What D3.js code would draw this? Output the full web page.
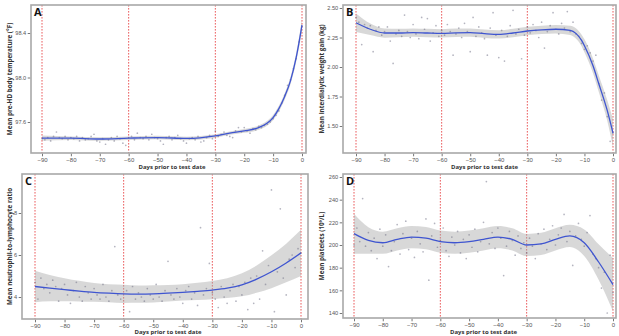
<!DOCTYPE html>
<html><head><meta charset="utf-8">
<script src="https://cdn.jsdelivr.net/npm/d3@7"></script>
<style>body{margin:0;background:#fff}svg{display:block}</style>
</head><body>
<script>
const days = [-90,-89,-88,-87,-86,-85,-84,-83,-82,-81,-80,-79,-78,-77,-76,-75,-74,-73,-72,-71,-70,-69,-68,-67,-66,-65,-64,-63,-62,-61,-60,-59,-58,-57,-56,-55,-54,-53,-52,-51,-50,-49,-48,-47,-46,-45,-44,-43,-42,-41,-40,-39,-38,-37,-36,-35,-34,-33,-32,-31,-30,-29,-28,-27,-26,-25,-24,-23,-22,-21,-20,-19,-18,-17,-16,-15,-14,-13,-12,-11,-10,-9,-8,-7,-6,-5,-4,-3,-2,-1,0];
const xTicks = [-90,-80,-70,-60,-50,-40,-30,-20,-10,0];
const refDays = [-90,-60,-30,0];

// Panel A: body temperature (F)
const tempPts = [97.45,97.44,97.46,97.43,97.47,97.51,97.46,97.45,97.47,97.44,97.46,97.45,97.47,97.43,97.46,97.44,97.45,97.47,97.49,97.43,97.42,97.45,97.40,97.44,97.46,97.43,97.47,97.45,97.41,97.39,97.46,97.47,97.44,97.50,97.46,97.45,97.47,97.44,97.49,97.46,97.45,97.43,97.40,97.46,97.47,97.44,97.46,97.48,97.45,97.43,97.41,97.45,97.46,97.44,97.47,97.42,97.43,97.46,97.48,97.45,97.52,97.47,97.49,97.51,97.48,97.47,97.46,97.52,97.55,97.51,97.55,97.52,97.50,97.54,97.53,97.56,97.55,97.57,97.58,97.60,97.63,97.66,97.70,97.77,97.84,97.93,97.98,98.08,98.17,98.32,98.46];
const tempFitDays = [-90,-80,-70,-60,-50,-40,-30,-25,-20,-15,-12,-10,-8,-6,-4,-2,0];
const tempFit = [97.455,97.455,97.447,97.455,97.46,97.452,97.475,97.5,97.52,97.55,97.59,97.64,97.72,97.83,97.97,98.18,98.47];
const tempSe = [0.012,0.008,0.008,0.008,0.008,0.008,0.008,0.008,0.009,0.01,0.011,0.012,0.013,0.015,0.017,0.02,0.028];
const tempTicks = [97.6,98.0,98.4];

// Panel B: interdialytic weight gain (kg)
const wgPts = [2.42,2.38,2.19,2.36,2.33,2.35,2.13,2.31,2.34,2.27,2.30,2.34,2.22,2.03,2.28,2.31,2.26,2.44,2.30,2.25,2.36,2.28,2.24,2.42,2.32,2.41,2.22,2.29,2.35,2.26,2.31,2.27,2.36,2.30,2.10,2.28,2.33,2.25,2.37,2.30,2.13,2.42,2.26,2.34,2.29,2.24,2.10,2.33,2.46,2.27,2.08,2.31,2.05,2.26,2.35,2.48,2.28,2.32,2.07,2.27,2.34,2.29,2.36,2.31,2.25,2.38,2.16,2.30,2.35,2.46,2.32,2.28,2.37,2.33,2.47,2.30,2.38,2.28,2.26,2.20,2.15,2.18,2.12,2.05,2.10,1.86,1.72,1.78,1.58,1.37,1.44];
const wgFitDays = [-90,-85,-80,-75,-70,-65,-60,-55,-50,-45,-40,-35,-30,-25,-20,-15,-13,-11,-10,-7,-5,-2,0];
const wgFit = [2.375,2.32,2.288,2.288,2.292,2.288,2.285,2.29,2.292,2.282,2.276,2.288,2.305,2.315,2.32,2.31,2.285,2.225,2.18,2.01,1.86,1.63,1.44];
const wgSe = [0.04,0.025,0.02,0.018,0.018,0.018,0.018,0.018,0.018,0.018,0.018,0.018,0.018,0.018,0.018,0.02,0.022,0.025,0.028,0.032,0.036,0.045,0.06];
const wgTicks = [1.50,1.75,2.00,2.25,2.50];

// Panel C: neutrophil-to-lymphocyte ratio
const nlrPts = [4.7,3.9,4.9,4.4,4.6,4.2,4.8,4.5,3.8,4.4,4.6,4.1,3.7,4.3,4.7,4.0,3.8,4.5,4.2,3.9,4.4,4.1,3.9,4.6,4.0,3.8,4.3,6.4,4.1,3.9,3.4,4.3,3.3,4.5,3.9,4.2,4.0,3.8,4.4,4.1,3.9,4.6,4.0,3.8,4.3,5.7,4.1,3.9,4.4,4.0,3.7,4.3,4.5,3.9,4.2,3.6,7.3,4.1,4.4,5.6,4.2,3.9,3.5,4.5,4.0,3.7,4.3,4.6,3.8,4.5,4.1,4.7,3.4,4.9,3.7,5.0,3.9,6.2,4.6,5.5,9.1,3.3,5.2,8.2,4.9,4.1,5.8,6.0,5.4,6.3,6.1];
const nlrFitDays = [-90,-85,-80,-75,-70,-65,-60,-55,-50,-45,-40,-35,-30,-25,-20,-15,-10,-5,0];
const nlrFit = [4.5,4.42,4.35,4.28,4.22,4.18,4.15,4.14,4.15,4.18,4.22,4.27,4.33,4.42,4.58,4.85,5.2,5.62,6.1];
const nlrSe = [0.38,0.32,0.28,0.25,0.23,0.22,0.22,0.21,0.21,0.2,0.2,0.21,0.22,0.24,0.28,0.33,0.4,0.47,0.56];
const nlrTicks = [4,6,8];

// Panel D: platelets (10^9/L)
const pltPts = [200,215,203,241,199,211,195,206,188,214,199,209,181,195,203,218,192,210,221,196,206,189,212,201,194,223,169,208,219,198,204,215,195,190,207,200,212,193,205,188,209,198,214,194,203,220,256,201,211,197,215,206,173,199,212,204,191,208,197,202,193,206,199,188,210,201,214,196,205,217,200,209,215,227,203,212,182,208,219,205,199,211,226,192,188,180,162,176,140,191,158];
const pltFitDays = [-90,-85,-80,-75,-70,-65,-60,-55,-50,-45,-40,-35,-30,-25,-20,-15,-10,-5,0];
const pltFit = [210,204,202,205,207,206,203,202,203,205,207,205,200,201,205,208,202,185,165];
const pltSe = [9,6,5,5,5,5,5,5,5,5,5,5,5,5,5,5,6,8,12];
const pltTicks = [140,160,180,200,220,240,260];

const W = 619, H = 336;
const svg = d3.select("body").append("svg").attr("width", W).attr("height", H)
  .style("font-family", "'Open Sans', 'Liberation Sans', Arial, sans-serif");

const panels = [
  {letter:"A", pts:tempPts, fd:tempFitDays, fit:tempFit, se:tempSe, ticks:tempTicks, fmt:d3.format(".1f"),
   box:[31,5,306,153], x0:42, x1:302, yA:[97.6,122], yB:[98.4,33], ylab:"Mean pre-HD body temperature (°F)", ylx:10, tdy:16},
  {letter:"B", pts:wgPts, fd:wgFitDays, fit:wgFit, se:wgSe, ticks:wgTicks, fmt:d3.format(".2f"),
   box:[343,5,616,153], x0:356, x1:613, yA:[1.5,126], yB:[2.5,8], ylab:"Mean interdialytic weight gain (kg)", ylx:322, tdy:16},
  {letter:"C", pts:nlrPts, fd:nlrFitDays, fit:nlrFit, se:nlrSe, ticks:nlrTicks, fmt:d3.format("d"),
   box:[22,174,308,319], x0:35, x1:301, yA:[4,297], yB:[8,213], ylab:"Mean neutrophil-to-lymphocyte ratio", ylx:10, tdy:15.2},
  {letter:"D", pts:pltPts, fd:pltFitDays, fit:pltFit, se:pltSe, ticks:pltTicks, fmt:d3.format("d"),
   box:[343,174,616,318], x0:354, x1:613, yA:[140,313], yB:[260,177], ylab:"Mean platelets (10⁹/L)", ylx:322, tdy:16.2}
];

panels.forEach(p => {
  const [bx0, by0, bx1, by1] = p.box;
  const x = d3.scaleLinear().domain([-90, 0]).range([p.x0, p.x1]);
  const y = d3.scaleLinear().domain([p.yA[0], p.yB[0]]).range([p.yA[1], p.yB[1]]);
  const g = svg.append("g");
  const clipId = "clip" + p.letter;
  svg.append("clipPath").attr("id", clipId).append("rect")
    .attr("x", bx0).attr("y", by0).attr("width", bx1 - bx0).attr("height", by1 - by0);

  g.append("rect").attr("x", bx0).attr("y", by0).attr("width", bx1 - bx0).attr("height", by1 - by0)
    .attr("fill", "#fff");

  const inner = g.append("g").attr("clip-path", `url(#${clipId})`);
  inner.selectAll("line.ref").data(refDays).join("line")
    .attr("x1", d => x(d)).attr("x2", d => x(d)).attr("y1", by0).attr("y2", by1)
    .attr("stroke", "#e8474a").attr("stroke-width", 0.9).attr("stroke-dasharray", "1.6,1.4");

  const fitData = p.fd.map((d, i) => ({d, v: p.fit[i], s: p.se[i]}));
  inner.append("path").datum(fitData)
    .attr("d", d3.area().x(d => x(d.d)).y0(d => y(d.v - 1.96 * d.s)).y1(d => y(d.v + 1.96 * d.s)).curve(d3.curveMonotoneX))
    .attr("fill", "#a9a9a9").attr("opacity", 0.45);

  inner.selectAll("circle").data(days.map((d, i) => ({d, v: p.pts[i]}))).join("circle")
    .attr("cx", d => x(d.d)).attr("cy", d => y(d.v)).attr("r", 0.85)
    .attr("fill", "#6a6a80").attr("opacity", 0.5);

  inner.append("path").datum(fitData)
    .attr("d", d3.line().x(d => x(d.d)).y(d => y(d.v)).curve(d3.curveMonotoneX))
    .attr("fill", "none").attr("stroke", "#3f55d0").attr("stroke-width", 1.3);

  g.append("rect").attr("x", bx0).attr("y", by0).attr("width", bx1 - bx0).attr("height", by1 - by0)
    .attr("fill", "none").attr("stroke", "#a8a8a8").attr("stroke-width", 1.6);

  const xa = g.append("g").attr("transform", `translate(0,${by1 + 0.8})`)
    .call(d3.axisBottom(x).tickValues(xTicks).tickSize(2.5).tickPadding(1).tickFormat(d3.format("d")));
  xa.select(".domain").remove();
  xa.selectAll(".tick line").attr("stroke", "#777");
  xa.selectAll("text").attr("font-size", 6).attr("fill", "#555").attr("font-family", null);

  const ya = g.append("g").attr("transform", `translate(${bx0 - 0.8},0)`)
    .call(d3.axisLeft(y).tickValues(p.ticks).tickSize(2.5).tickPadding(1.5).tickFormat(p.fmt));
  ya.select(".domain").remove();
  ya.selectAll(".tick line").attr("stroke", "#777");
  ya.selectAll("text").attr("font-size", 5.6).attr("fill", "#555").attr("font-family", null);

  g.append("text").attr("x", (p.x0 + p.x1) / 2).attr("y", by1 + p.tdy).attr("text-anchor", "middle")
    .attr("font-size", 6).attr("font-weight", "bold").attr("fill", "#333").text("Days prior to test date");
  g.append("text").attr("transform", `translate(${p.ylx},${(by0 + by1) / 2}) rotate(-90)`)
    .attr("text-anchor", "middle").attr("dominant-baseline", "middle")
    .attr("font-size", 6.3).attr("font-weight", "bold").attr("fill", "#333").text(p.ylab);
  g.append("text").attr("x", bx0 + 3).attr("y", by0 + 11).attr("font-size", 11).attr("font-weight", "bold")
    .attr("fill", "#111").text(p.letter);
});
</script>
</body></html>
